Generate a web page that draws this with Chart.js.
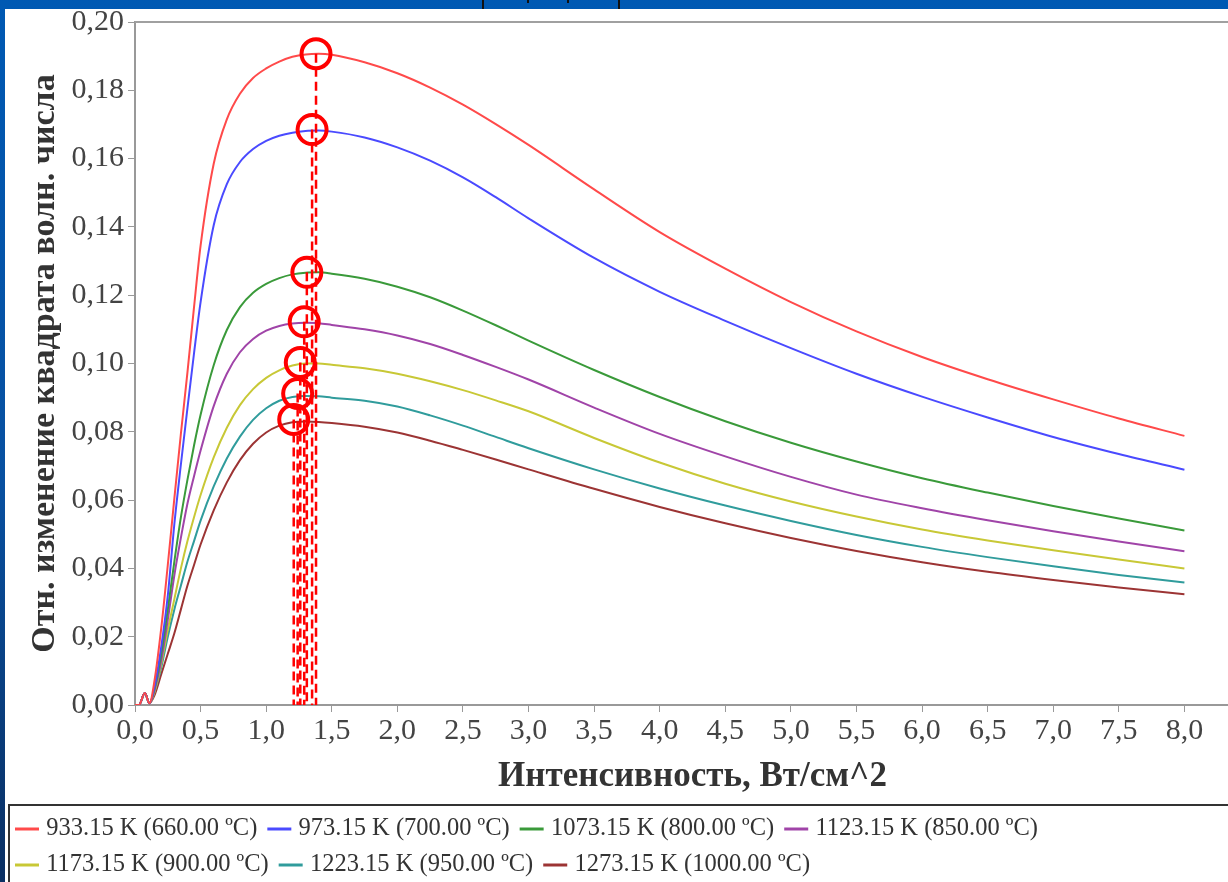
<!DOCTYPE html>
<html>
<head>
<meta charset="utf-8">
<script src="https://cdn.jsdelivr.net/npm/chart.js@4.4.1/dist/chart.umd.min.js"></script>
<style>
  html, body { margin: 0; padding: 0; }
  body {
    width: 1228px; height: 882px; overflow: hidden; position: relative;
    background: linear-gradient(to bottom, #0059b3 0%, #0850a0 55%, #0a2f62 100%);
  }
  #panel {
    position: absolute; left: 5px; top: 9px; width: 1223px; height: 873px;
    background: #fff; overflow: hidden;
  }
  .mark { position: absolute; top: 0; width: 2px; background: #111; }
</style>
</head>
<body>
<div class="mark" style="left:482px;height:9px"></div>
<div class="mark" style="left:527px;height:3px"></div>
<div class="mark" style="left:567px;height:3px"></div>
<div class="mark" style="left:618px;height:9px"></div>
<div id="panel"><canvas id="chart" width="1245" height="880"></canvas></div>
<script>
// Интенсивность, Вт/см^2
const xs = [0, 0.03, 0.075, 0.11, 0.15, 0.2, 0.25, 0.3, 0.35, 0.4, 0.45, 0.5, 0.6, 0.7, 0.8, 0.9, 1.0, 1.1, 1.2, 1.3, 1.4, 1.5,
            1.75, 2.0, 2.25, 2.5, 2.75, 3.0, 3.5, 4.0, 4.5, 5.0, 5.5, 6.0, 6.5, 7.0, 7.5, 8.0];

const labels = ["933.15 K (660.00 ºC)", "973.15 K (700.00 ºC)", "1073.15 K (800.00 ºC)", "1123.15 K (850.00 ºC)",
                "1173.15 K (900.00 ºC)", "1223.15 K (950.00 ºC)", "1273.15 K (1000.00 ºC)"];
const colors = ["#ff4a4a", "#4a4aff", "#3a9a3a", "#a044a8", "#c8c836", "#309c9c", "#9c3434"];

const s933 = [0, 0, 0.0035, 0.0005, 0.0075, 0.0225, 0.041, 0.0605, 0.0795, 0.0975, 0.1165, 0.1345, 0.1585, 0.1715, 0.1790, 0.1836, 0.1864, 0.1884, 0.1898, 0.1905, 0.1907, 0.1904,
              0.1882, 0.1850, 0.1808, 0.1758, 0.1701, 0.1640, 0.1510, 0.1385, 0.1278, 0.1180, 0.1094, 0.1019, 0.0954, 0.0895, 0.0839, 0.0788];
const s973 = [0, 0, 0.0035, 0.0005, 0.0055, 0.017, 0.032, 0.053, 0.0705, 0.087, 0.103, 0.118, 0.1405, 0.1525, 0.1590, 0.1628, 0.1652, 0.1667, 0.1676, 0.1681, 0.1682, 0.1679,
              0.1662, 0.1633, 0.1594, 0.1545, 0.1487, 0.1425, 0.1309, 0.1210, 0.1125, 0.1045, 0.0970, 0.0903, 0.0842, 0.0785, 0.0735, 0.0689];
const s1073 = [0, 0, 0.0035, 0.0005, 0.005, 0.015, 0.028, 0.042, 0.055, 0.066, 0.076, 0.085, 0.0995, 0.1098, 0.1165, 0.1207, 0.1233, 0.1250, 0.1261, 0.1266, 0.1267, 0.1263,
               0.1248, 0.1225, 0.1194, 0.1155, 0.1112, 0.1067, 0.0981, 0.0902, 0.0831, 0.0768, 0.0713, 0.0664, 0.0622, 0.0583, 0.0546, 0.0511];
const s1123 = [0, 0, 0.0035, 0.0005, 0.0045, 0.013, 0.025, 0.038, 0.049, 0.059, 0.067, 0.0745, 0.0875, 0.0970, 0.1033, 0.1072, 0.1096, 0.1110, 0.1117, 0.1119, 0.1118, 0.1113,
               0.1100, 0.1082, 0.1057, 0.1025, 0.0990, 0.0953, 0.0871, 0.0794, 0.0728, 0.0668, 0.0616, 0.0576, 0.0541, 0.0509, 0.0479, 0.0450];
const s1173 = [0, 0, 0.0035, 0.0005, 0.004, 0.012, 0.022, 0.031, 0.040, 0.048, 0.055, 0.0615, 0.0725, 0.0812, 0.0878, 0.0925, 0.0958, 0.0980, 0.0994, 0.1000, 0.1000, 0.0996,
               0.0986, 0.0970, 0.0948, 0.0922, 0.0892, 0.0860, 0.0782, 0.0710, 0.0648, 0.0596, 0.0552, 0.0514, 0.0482, 0.0453, 0.0426, 0.0400];
const s1223 = [0, 0, 0.0035, 0.0005, 0.004, 0.011, 0.020, 0.028, 0.035, 0.042, 0.048, 0.054, 0.0640, 0.0722, 0.0786, 0.0835, 0.0869, 0.0891, 0.0902, 0.0905, 0.0904, 0.0900,
               0.0891, 0.0874, 0.0848, 0.0818, 0.0785, 0.0752, 0.0690, 0.0634, 0.0584, 0.0539, 0.0498, 0.0463, 0.0433, 0.0406, 0.0381, 0.0359];
const s1273 = [0, 0, 0.0035, 0.0005, 0.003, 0.009, 0.015, 0.021, 0.028, 0.035, 0.041, 0.047, 0.0570, 0.0652, 0.0717, 0.0765, 0.0798, 0.0818, 0.0828, 0.0830, 0.0829, 0.0826,
               0.0815, 0.0798, 0.0774, 0.0747, 0.0719, 0.0690, 0.0633, 0.0580, 0.0532, 0.0489, 0.0451, 0.0418, 0.0390, 0.0366, 0.0344, 0.0324];
const series = [s933, s973, s1073, s1123, s1173, s1223, s1273];

// отмеченные максимумы (красные кружки и пунктир)
const peakX = [1.38, 1.35, 1.31, 1.29, 1.26, 1.24, 1.21];
const peakY = [0.1907, 0.1685, 0.1267, 0.1122, 0.1003, 0.0912, 0.0836];

const yTicks = [0, 0.02, 0.04, 0.06, 0.08, 0.10, 0.12, 0.14, 0.16, 0.18, 0.20];
const xTicks = [0, 0.5, 1, 1.5, 2, 2.5, 3, 3.5, 4, 4.5, 5, 5.5, 6, 6.5, 7, 7.5, 8];

const serif = "'Liberation Serif', 'Times New Roman', serif";

const datasets = series.map((s, i) => ({
    label: labels[i],
    data: xs.map((x, j) => ({x: x, y: s[j]})),
    borderColor: colors[i],
    backgroundColor: colors[i],
    borderWidth: 2,
    pointRadius: 0,
    cubicInterpolationMode: 'monotone',
    order: 1
}));

// пунктирные линии от максимума до оси
const dashData = [];
peakX.forEach((px, i) => {
    dashData.push({x: px, y: peakY[i]}, {x: px, y: 0}, {x: px, y: null});
});
datasets.push({
    label: '_dash',
    data: dashData,
    borderColor: '#ff0000',
    borderWidth: 2.5,
    borderDash: [9, 5],
    pointRadius: 0,
    spanGaps: false,
    tension: 0,
    order: -1
});
datasets.push({
    label: '_circles',
    type: 'scatter',
    data: peakX.map((px, i) => ({x: px, y: peakY[i]})),
    pointRadius: 14.5,
    pointBorderWidth: 4,
    pointBorderColor: '#ff0000',
    pointBackgroundColor: 'rgba(0,0,0,0)',
    showLine: false,
    order: -2
});

const frame = {
    id: 'frame',
    afterDraw(chart) {
        const ctx = chart.ctx, a = chart.chartArea, lg = chart.legend;
        ctx.save();
        ctx.strokeStyle = '#a0a0a0';
        ctx.lineWidth = 2;
        ctx.beginPath();
        ctx.moveTo(a.left, a.top);
        ctx.lineTo(a.right, a.top);
        ctx.stroke();
        // рамка легенды
        ctx.strokeStyle = '#333';
        ctx.beginPath();
        ctx.moveTo(4, chart.height);
        ctx.lineTo(4, lg.top - 1);
        ctx.lineTo(chart.width, lg.top - 1);
        ctx.stroke();
        // линии-образцы в легенде
        ctx.lineWidth = 3;
        lg.legendItems.forEach((item, i) => {
            const hb = lg.legendHitBoxes[i];
            const y = hb.top + hb.height / 2;
            ctx.strokeStyle = colors[item.datasetIndex];
            ctx.beginPath();
            ctx.moveTo(hb.left, y);
            ctx.lineTo(hb.left + 24, y);
            ctx.stroke();
        });
        ctx.restore();
    }
};

new Chart(document.getElementById('chart'), {
    type: 'line',
    data: { datasets: datasets },
    plugins: [frame],
    options: {
        responsive: false,
        animation: false,
        layout: { autoPadding: false, padding: { left: 0, right: 0, top: 11, bottom: 1 } },
        plugins: {
            tooltip: { enabled: false },
            legend: {
                position: 'bottom',
                align: 'start',
                labels: {
                    boxWidth: 19,
                    boxHeight: 26,
                    padding: 10,
                    color: '#333',
                    font: { family: serif, size: 24.5 },
                    filter: item => !item.text.startsWith('_'),
                    generateLabels: chart => Chart.defaults.plugins.legend.labels.generateLabels(chart)
                        .map(l => Object.assign(l, { lineWidth: 0, fillStyle: 'rgba(0,0,0,0)' }))
                }
            }
        },
        scales: {
            x: {
                type: 'linear',
                min: 0,
                max: 8.5,
                afterBuildTicks: s => { s.ticks = xTicks.map(v => ({value: v})); },
                afterFit: s => { s.height = 101; },
                ticks: {
                    padding: 3,
                    color: '#444',
                    font: { family: serif, size: 30, lineHeight: 1.1 },
                    maxRotation: 0,
                    callback: v => v.toFixed(1).replace('.', ',')
                },
                grid: { drawOnChartArea: false, tickLength: 7, color: '#999' },
                border: { color: '#999', width: 2 },
                title: {
                    display: true,
                    text: 'Интенсивность, Вт/см^2',
                    color: '#333',
                    font: { family: serif, size: 35, weight: 'bold' },
                    padding: { top: 0, bottom: 8 }
                }
            },
            y: {
                min: 0,
                max: 0.2,
                afterBuildTicks: s => { s.ticks = yTicks.map(v => ({value: v})); },
                afterFit: s => { s.width = 130; },
                ticks: {
                    padding: 4,
                    color: '#444',
                    font: { family: serif, size: 30, lineHeight: 0.6 },
                    callback: v => v.toFixed(2).replace('.', ',')
                },
                grid: { drawOnChartArea: false, tickLength: 7, color: '#999' },
                border: { color: '#999', width: 2 },
                title: {
                    display: true,
                    text: 'Отн. изменение квадрата волн. числа',
                    color: '#333',
                    font: { family: serif, size: 34, weight: 'bold' },
                    padding: { top: 20, bottom: 0 }
                }
            }
        }
    }
});
</script>
</body>
</html>
